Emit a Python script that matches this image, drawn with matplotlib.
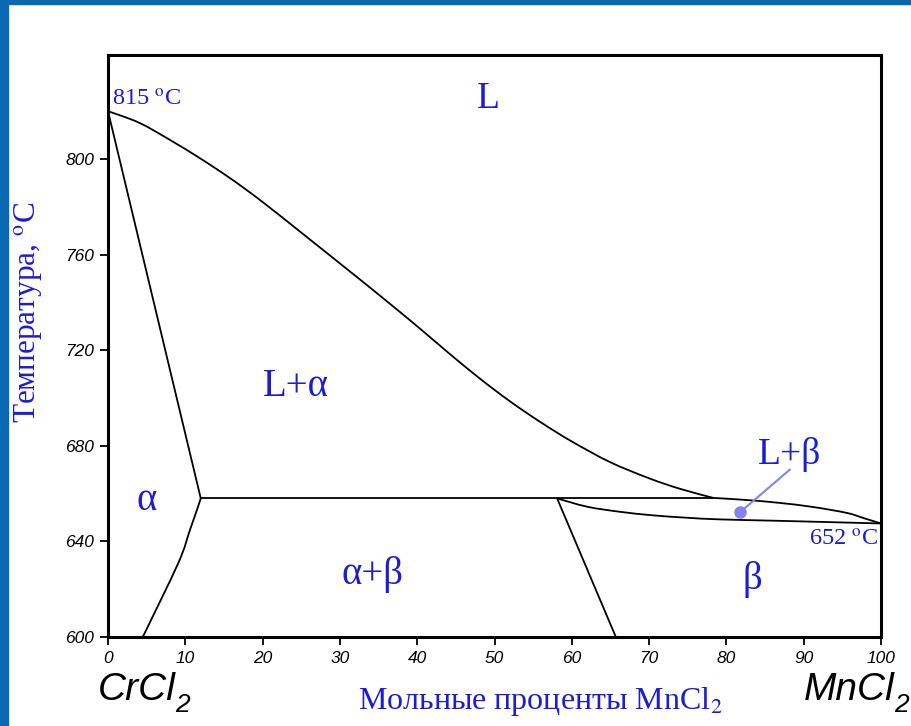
import matplotlib
matplotlib.use('Agg')
import matplotlib.pyplot as plt
import numpy as np
from matplotlib.patches import Rectangle, PathPatch
from matplotlib.path import Path

plt.rcParams['mathtext.fontset'] = 'custom'
plt.rcParams['mathtext.it'] = 'Liberation Sans:italic'
plt.rcParams['mathtext.rm'] = 'Liberation Sans:italic'

# ── phase boundaries (mol % MnCl2, °C) ────────────────────────────────────────
liq_x = [0, 4, 8, 12, 16, 20, 25, 30, 35, 40, 44, 48, 52, 56, 60, 65, 70,
         74, 78.3]
liq_t = [820, 815.2, 808.0, 800.1, 791.5, 782.0, 769.2, 756.3, 743.3, 730.0,
         719.0, 708.4, 698.6, 689.8, 681.8, 673.1, 666.4, 662.0, 658.2]

# upper boundary of L+beta (liquidus on MnCl2 side)
liqb_x = [78.3, 82.7, 86.9, 91.2, 95.6, 97.7, 100]
liqb_t = [658.2, 657.3, 656.1, 654.4, 651.9, 649.8, 647.5]

# lower boundary of L+beta (beta solidus)
solb_x = [58.1, 62.0, 66.2, 70.5, 74.9, 79.2, 86.9, 100]
solb_t = [658.0, 654.5, 652.4, 650.9, 649.9, 649.2, 648.6, 647.5]

# alpha solidus
sola_x = [0, 12.0]
sola_t = [820, 658.0]

# alpha solvus
svsa_x = [12.0, 11.5, 10.6, 9.1, 4.5]
svsa_t = [658.0, 653.1, 644.8, 631.0, 600]

# beta solvus
svsb_x = [58.1, 65.7]
svsb_t = [658.0, 600]

# invariant line
inv_x = [12.0, 78.3]
inv_t = [658.0, 658.0]

x_ticks = list(range(0, 101, 10))
y_ticks = [600, 640, 680, 720, 760, 800]

BLUE = '#1c1cd4'
W, H = 911, 726


def smooth(xs, ys):
    # Catmull-Rom through the read points, drawn as cubic Bezier segments
    p = np.column_stack([xs, ys]).astype(float)
    n = len(p)
    verts, codes = [p[0]], [Path.MOVETO]
    for i in range(n - 1):
        p0, p1 = p[max(i - 1, 0)], p[i]
        p2, p3 = p[i + 1], p[min(i + 2, n - 1)]
        verts += [p1 + (p2 - p0) / 6, p2 - (p3 - p1) / 6, p2]
        codes += [Path.CURVE4] * 3
    return Path(verts, codes)


fig = plt.figure(figsize=(W / 100, H / 100), dpi=100)
fig.patch.set_facecolor('white')

# blue frame
fig.patches.append(Rectangle((0, 0), 8 / W, 1, transform=fig.transFigure,
                             color='#0868b2', zorder=0))
fig.patches.append(Rectangle((0, 1 - 4 / H), 1, 4 / H, transform=fig.transFigure,
                             color='#0868b2', zorder=0))

ax = fig.add_axes([108 / W, 1 - 637 / H, (881 - 108) / W, (637 - 55) / H])

for xs, ts in [(liq_x, liq_t), (liqb_x, liqb_t), (solb_x, solb_t),
               (svsa_x, svsa_t)]:
    ax.add_patch(PathPatch(smooth(xs, ts), fill=False, edgecolor='black', lw=1.3))
for xs, ts in [(sola_x, sola_t), (svsb_x, svsb_t), (inv_x, inv_t)]:
    ax.plot(xs, ts, color='black', lw=1.3)

# ── axes ──────────────────────────────────────────────────────────────────────
ax.set_xlim(0, 100)
ax.set_ylim(600, 843.5)
ax.set_xticks(x_ticks)
ax.set_yticks(y_ticks)
ax.tick_params(direction='out', length=6, width=1.3, labelsize=12.5, pad=4)
for lab in ax.get_xticklabels() + ax.get_yticklabels():
    lab.set_fontfamily('Liberation Sans')
    lab.set_fontstyle('italic')
for s in ax.spines.values():
    s.set_linewidth(2.2)

# ── region labels ─────────────────────────────────────────────────────────────
serif = dict(family='Liberation Serif', color=BLUE, math_fontfamily='stix')
ax.text(49.2, 825, 'L', ha='center', va='center', fontsize=27, **serif)
ax.text(0.5, 824.5, r'815 $^{\mathrm{o}}$C', ha='left', va='center', fontsize=17.5, **serif)
ax.text(24.3, 705, 'L+α', ha='center', va='center', fontsize=28, **serif)
ax.text(5.0, 657, 'α', ha='center', va='center', fontsize=28, **serif)
ax.text(34.2, 626, 'α+β', ha='center', va='center', fontsize=28, **serif)
ax.text(83.3, 624, 'β', ha='center', va='center', fontsize=28, **serif)
ax.text(88.2, 676.5, 'L+β', ha='center', va='center', fontsize=27, **serif)
ax.text(99.6, 640.5, r'652 $^{\mathrm{o}}$C', ha='right', va='center', fontsize=17.5, **serif)

# pointer to the thin L+beta field
ax.plot([88.2, 81.8], [670, 652.3], color='#8585f0', lw=1.5)
ax.plot([81.8], [652.3], 'o', color='#8585f0', ms=8)

# ── axis titles ───────────────────────────────────────────────────────────────
fig.text(29 / W, 1 - 312 / H, r'Температура, $^{\mathrm{o}}$C', rotation=90,
         ha='center', va='center', fontsize=22.5, **serif)
fig.text(540 / W, 1 - 702 / H, r'Мольные проценты MnCl$_2$',
         ha='center', va='center', fontsize=23, **serif)

# end-member names, subscript dropped well below the baseline
renderer = fig.canvas.get_renderer()
for name, x0 in [('CrCl', 98), ('MnCl', 804)]:
    t = fig.text(x0 / W, 1 - 700 / H, name, ha='left', va='baseline',
                 fontsize=28, family='Liberation Sans', style='italic')
    bb = t.get_window_extent(renderer)
    fig.text((bb.x1 - 1) / W, 1 - 712 / H, '2', ha='left', va='baseline',
             fontsize=19, family='Liberation Sans', style='italic')

fig.savefig('out.png', dpi=100, facecolor='white')
